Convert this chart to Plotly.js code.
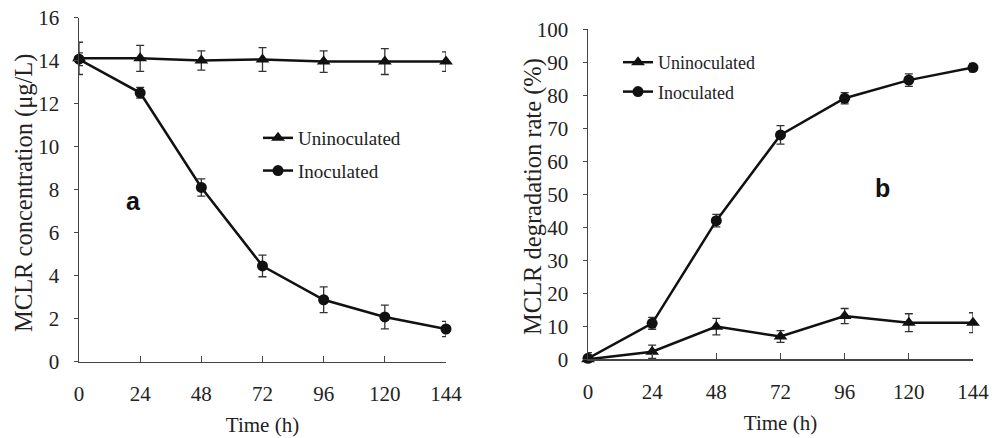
<!DOCTYPE html>
<html>
<head>
<meta charset="utf-8">
<script src="https://cdn.plot.ly/plotly-3.0.1.min.js"></script>
<style>html,body{margin:0;padding:0;background:#fff;}#chart{width:997px;height:438px;}</style>
</head>
<body>
<div id="chart"></div>
<script>
// Time points (h)
const timeH = [0, 24, 48, 72, 96, 120, 144];
const xTickLabels = ['0', '24', '48', '72', '96', '120', '144'];

// Panel a: MCLR concentration (µg/L)
const concUninoc = [14.1, 14.1, 14.0, 14.05, 13.95, 13.95, 13.95];
const concUninocErr = [0.75, 0.6, 0.45, 0.55, 0.5, 0.6, 0.45];
const concInoc = [14.06, 12.5, 8.1, 4.45, 2.88, 2.08, 1.52];
const concInocErr = [0.3, 0.25, 0.4, 0.5, 0.6, 0.55, 0.35];

// Panel b: MCLR degradation rate (%)
const rateUninoc = [0, 2.3, 9.9, 6.9, 13.1, 11.1, 11.1];
const rateUninocErr = [2, 2, 2.5, 1.8, 2.3, 2.7, 3];
const rateInoc = [0.3, 10.9, 42, 68, 79.1, 84.6, 88.4];
const rateInocErr = [0.8, 1.8, 1.9, 2.8, 1.7, 1.9, 1.3];

const serif = 'Liberation Serif, Times New Roman, serif';
const lineCol = '#111';
const errCol = '#333';
const textCol = '#222';

function series(x, y, err, name, symbol, xa, ya, legend, group, msize) {
  return {
    x: x, y: y, name: name, type: 'scatter', mode: 'lines+markers',
    xaxis: xa, yaxis: ya, legend: legend, legendgroup: group, cliponaxis: false,
    line: {color: lineCol, width: 2.5},
    marker: {symbol: symbol, size: msize, color: lineCol},
    error_y: {type: 'data', array: err, visible: true, color: errCol, thickness: 1.3, width: 4}
  };
}

const data = [
  series(timeH, concUninoc, concUninocErr, 'Uninoculated', 'triangle-up', 'x', 'y', 'legend', 'a1', 12),
  series(timeH, concInoc, concInocErr, 'Inoculated', 'circle', 'x', 'y', 'legend', 'a2', 11),
  series(timeH, rateUninoc, rateUninocErr, 'Uninoculated', 'triangle-up', 'x2', 'y2', 'legend2', 'b1', 12),
  series(timeH, rateInoc, rateInocErr, 'Inoculated', 'circle', 'x2', 'y2', 'legend2', 'b2', 11)
];

const axisCommon = {
  showgrid: false, zeroline: false, showline: true,
  linecolor: '#444', linewidth: 1.5,
  tickcolor: '#444', tickwidth: 1.3,
  tickfont: {family: serif, size: 21, color: textCol}
};

const layout = {
  width: 997, height: 438,
  margin: {l: 0, r: 0, t: 0, b: 0},
  paper_bgcolor: '#fff', plot_bgcolor: '#fff',
  showlegend: true,
  font: {family: serif, color: textCol},
  xaxis: Object.assign({}, axisCommon, {
    domain: [79/997, 446/997], range: [0, 144], anchor: 'y',
    tickvals: timeH, ticktext: xTickLabels,
    ticks: 'inside', ticklen: 6, ticklabelstandoff: 13,
    title: {text: 'Time (h)', font: {family: serif, size: 21, color: textCol}, standoff: 12}
  }),
  yaxis: Object.assign({}, axisCommon, {
    domain: [1 - 361.7/438, 1 - 17.5/438], range: [0, 16], anchor: 'x',
    tickvals: [0, 2, 4, 6, 8, 10, 12, 14, 16],
    ticks: 'outside', ticklen: 4, ticklabelstandoff: 10
  }),
  xaxis2: Object.assign({}, axisCommon, {
    domain: [588/997, 973/997], range: [0, 144], anchor: 'y2',
    tickvals: timeH, ticktext: xTickLabels,
    ticks: 'inside', ticklen: 6, ticklabelstandoff: 13,
    title: {text: 'Time (h)', font: {family: serif, size: 21, color: textCol}, standoff: 12}
  }),
  yaxis2: Object.assign({}, axisCommon, {
    domain: [1 - 359.3/438, 1 - 29.3/438], range: [0, 100], anchor: 'x2',
    tickvals: [0, 10, 20, 30, 40, 50, 60, 70, 80, 90, 100],
    ticks: 'outside', ticklen: 4, ticklabelstandoff: 10
  }),
  legend: {
    x: 258/997, y: 1 - 119/438, xanchor: 'left', yanchor: 'top',
    bgcolor: 'rgba(0,0,0,0)', borderwidth: 0, tracegroupgap: 5,
    font: {family: serif, size: 19, color: textCol}, itemwidth: 30
  },
  legend2: {
    x: 618/997, y: 1 - 44/438, xanchor: 'left', yanchor: 'top',
    bgcolor: 'rgba(0,0,0,0)', borderwidth: 0, tracegroupgap: 3,
    font: {family: serif, size: 18, color: textCol}, itemwidth: 30
  },
  annotations: [
    {text: 'MCLR concentration (μg/L)', xref: 'paper', yref: 'paper', x: 24/997, y: 1 - 193/438,
     textangle: -90, showarrow: false, xanchor: 'center', yanchor: 'middle',
     font: {family: serif, size: 24.5, color: textCol}},
    {text: 'MCLR degradation rate (%)', xref: 'paper', yref: 'paper', x: 533/997, y: 1 - 197/438,
     textangle: -90, showarrow: false, xanchor: 'center', yanchor: 'middle',
     font: {family: serif, size: 24.5, color: textCol}},
    {text: '<b>a</b>', xref: 'x', yref: 'y', x: 21.2, y: 7.45, showarrow: false,
     font: {family: 'Liberation Sans, Arial, sans-serif', size: 25, color: '#111'}},
    {text: '<b>b</b>', xref: 'x2', yref: 'y2', x: 110.3, y: 52, showarrow: false,
     font: {family: 'Liberation Sans, Arial, sans-serif', size: 25, color: '#111'}}
  ]
};

Plotly.newPlot('chart', data, layout, {displayModeBar: false, staticPlot: true});
</script>
</body>
</html>
